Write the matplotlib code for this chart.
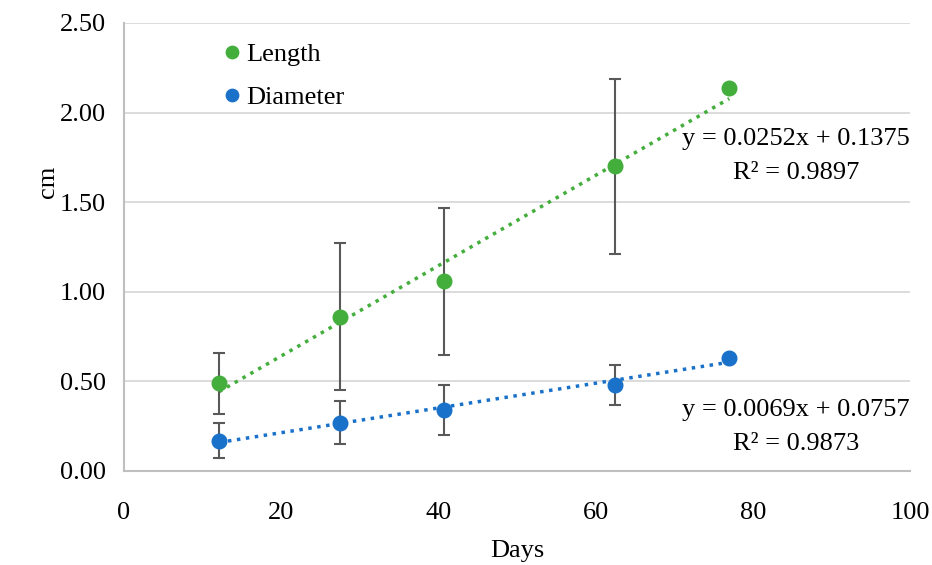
import matplotlib
matplotlib.use("Agg")
import matplotlib.pyplot as plt
import numpy as np

plt.rcParams['font.family'] = ['Liberation Serif', 'DejaVu Serif']

days = [12.1, 27.5, 40.7, 62.5, 77.0]
length = [0.49, 0.86, 1.06, 1.70, 2.14]
length_err = [0.17, 0.41, 0.41, 0.49, 0.0]
diameter = [0.17, 0.27, 0.34, 0.48, 0.63]
diameter_err = [0.10, 0.12, 0.14, 0.11, 0.0]
len_fit = (0.0252, 0.1375, 0.9897)
dia_fit = (0.0069, 0.0757, 0.9873)
x_ticks = [0, 20, 40, 60, 80, 100]
y_ticks = [0.0, 0.5, 1.0, 1.5, 2.0, 2.5]

green = '#43AE3C'
blue = '#1A71C9'
errc = '#595959'
FS = 19

fig = plt.figure(figsize=(9.32, 5.65), dpi=100)
ax = fig.add_axes([0.1330, 0.1664, 0.9764 - 0.1330, 0.9593 - 0.1664])

xs = np.array([days[0], days[-1]])
ax.plot(xs, len_fit[0] * xs + len_fit[1], linestyle=(0, (1, 1.6)), color=green, lw=2.5, zorder=2)
ax.plot(xs, dia_fit[0] * xs + dia_fit[1], linestyle=(0, (1, 1.6)), color=blue, lw=2.5, zorder=2)

le = [e if e > 0 else np.nan for e in length_err]
de = [e if e > 0 else np.nan for e in diameter_err]
ax.errorbar(days, length, yerr=le, fmt='none', ecolor=errc, elinewidth=1.5, capsize=4.2, capthick=1.5, zorder=3)
ax.errorbar(days, diameter, yerr=de, fmt='none', ecolor=errc, elinewidth=1.5, capsize=4.2, capthick=1.5, zorder=3)
ax.plot(days, length, 'o', color=green, ms=10.5, zorder=4, label='Length')
ax.plot(days, diameter, 'o', color=blue, ms=10.5, zorder=4, label='Diameter')

ax.set_xlim(0, 100)
ax.set_ylim(0, 2.5)
ax.set_xticks(x_ticks)
ax.set_yticks(y_ticks)
ax.set_yticklabels([f'{v:.2f}' for v in y_ticks])
ax.tick_params(axis='both', length=0, labelsize=FS, colors='black')
ax.tick_params(axis='x', pad=22)
ax.tick_params(axis='y', pad=13)
ax.grid(axis='y', color='#D9D9D9', lw=1.3)
ax.set_axisbelow(True)
for s in ['top', 'right']:
    ax.spines[s].set_visible(False)
for s in ['left', 'bottom']:
    ax.spines[s].set_color('#BFBFBF')
    ax.spines[s].set_linewidth(1.5)

ax.set_xlabel('Days', fontsize=FS, labelpad=12)
ax.set_ylabel('cm', fontsize=FS, va='center')
ax.yaxis.set_label_coords(-0.097, 0.645)

leg = ax.legend(loc='upper left', bbox_to_anchor=(0.09, 1.01), frameon=False, fontsize=FS,
                handletextpad=0.05, markerscale=0.85, labelspacing=0.75, handlelength=1.0)

ax.text(1.0, 0.74, f'y = {len_fit[0]:.4f}x + {len_fit[1]:.4f}', transform=ax.transAxes,
        ha='right', va='center', fontsize=FS)
ax.text(0.855, 0.665, f'R² = {len_fit[2]:.4f}', transform=ax.transAxes,
        ha='center', va='center', fontsize=FS)
ax.text(1.0, 0.137, f'y = {dia_fit[0]:.4f}x + {dia_fit[1]:.4f}', transform=ax.transAxes,
        ha='right', va='center', fontsize=FS)
ax.text(0.855, 0.06, f'R² = {dia_fit[2]:.4f}', transform=ax.transAxes,
        ha='center', va='center', fontsize=FS)

fig.savefig('out.png', dpi=100)
